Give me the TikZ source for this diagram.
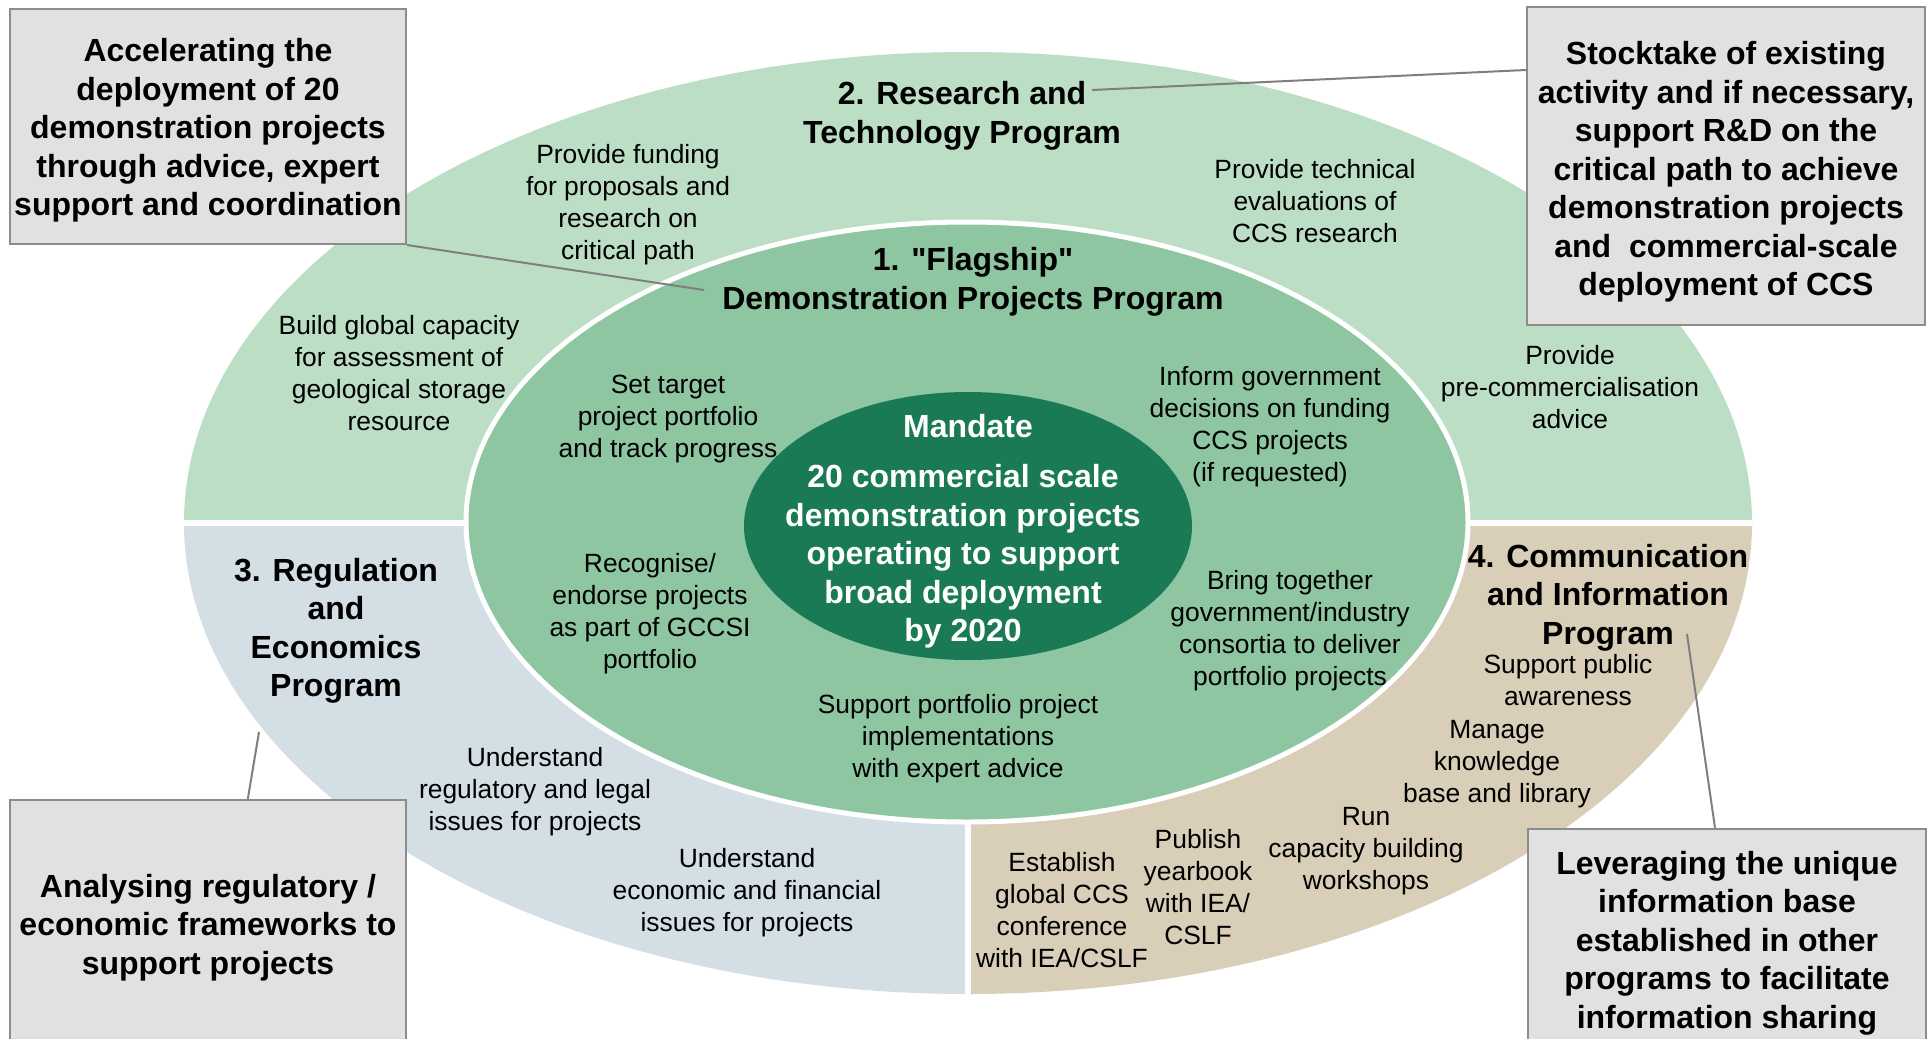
\documentclass[tikz,border=0pt]{standalone}
\usepackage{fontspec}
\setmainfont{Liberation Sans}
\newfontfamily\plainquote{Liberation Sans}
\usetikzlibrary{calc}
\definecolor{lgreen}{HTML}{BCDEC5}
\definecolor{mgreen}{HTML}{8DC6A1}
\definecolor{dgreen}{HTML}{1A7A56}
\definecolor{lblue}{HTML}{D3DFE5}
\definecolor{lbeige}{HTML}{D9CEB8}
\definecolor{boxfill}{HTML}{E1E1E1}
\definecolor{boxline}{HTML}{8C8C8C}
\definecolor{conn}{HTML}{7F7F7F}
\begin{document}
\begin{tikzpicture}[x=1pt,y=-1pt,
  lbl/.style={align=center, font=\fontsize{26.4}{32}\selectfont, inner sep=0pt},
  ttl/.style={align=center, font=\fontsize{32}{38.5}\selectfont\bfseries, inner sep=0pt},
  callout/.style={draw=boxline, fill=boxfill, line width=2pt, align=center,
    font=\fontsize{32}{38.5}\selectfont\bfseries, inner sep=0pt},
  connector/.style={draw=conn, line width=2pt}]
\useasboundingbox (0,0) rectangle (1931,1039);
\clip (0,0) rectangle (1931,1039);
\fill[white] (0,0) rectangle (1931,1039);

% outer ellipse with three sections
\begin{scope}
  \clip (968,523) ellipse [x radius=784pt, y radius=471pt];
  \fill[lgreen] (150,0) rectangle (1800,523);
  \fill[lblue] (150,523) rectangle (968,1000);
  \fill[lbeige] (968,523) rectangle (1800,1000);
  \draw[white, line width=6pt] (150,523) -- (1800,523);
  \draw[white, line width=6pt] (968,523) -- (968,1000);
\end{scope}

% inner ellipse
\filldraw[fill=mgreen, draw=white, line width=5pt] (967,522) ellipse [x radius=501pt, y radius=300pt];
% centre ellipse
\fill[dgreen] (968,526) ellipse [x radius=224pt, y radius=134pt];

% callout boxes
\node[callout, minimum width=396pt, minimum height=235pt] (boxTL) at (208,126.5)
  {\rule{0pt}{31pt}Accelerating the\\deployment of 20\\demonstration projects\\through advice, expert\\support and coordination};
\node[callout, minimum width=398pt, minimum height=318pt] (boxTR) at (1726,166)
  {\rule{0pt}{35.3pt}Stocktake of existing\\activity and if necessary,\\support R\&D on the\\critical path to achieve\\demonstration projects\\and\ \ commercial-scale\\deployment of CCS};
\node[callout, minimum width=396pt, minimum height=250pt] (boxBL) at (208,925)
  {\rule{0pt}{28.3pt}Analysing regulatory /\\economic frameworks to\\support projects};
\node[callout, minimum width=398pt, minimum height=220pt] (boxBR) at (1727,939)
  {\rule{0pt}{31pt}Leveraging the unique\\information base\\established in other\\programs to facilitate\\information sharing};

% connector ends
\coordinate (tlEnd) at (704,290);
\coordinate (trEnd) at (1092,90);
\coordinate (blEnd) at (259,732);
\coordinate (brEnd) at (1687,634);
\draw[connector] (boxTL.south east) -- (tlEnd);
\draw[connector] ($(boxTR.north west)!0.2!(boxTR.south west)$) -- (trEnd);
\draw[connector] ($(boxBL.north west)!0.6!(boxBL.north east)$) -- (blEnd);
\draw[connector] ($(boxBR.north west)!0.47!(boxBR.north east)$) -- (brEnd);

% Research and Technology
\node[ttl] (t2) at (962,116) {2. Research and\\Technology Program};
\node[lbl] (p1) at (628,205) {Provide funding\\for proposals and\\research on\\critical path};
\node[lbl] (p2) at (1315,201) {Provide technical\\evaluations of\\CCS research};
\node[lbl] (p3) at (399,373) {Build global capacity\\for assessment of\\geological storage\\resource};
\node[lbl] (p4) at (1570,387) {Provide\\pre-commercialisation\\advice};

% Flagship
\node[ttl] (t1) at (973,282) {{\plainquote 1. "Flagship"}\\Demonstration Projects Program};
\node[lbl] (f1) at (668,419) {Set target\\project portfolio\\and track progress};
\node[lbl] (f2) at (1270,426.5) {Inform government\\decisions on funding\\CCS projects\\(if requested)};
\node[lbl] (f3) at (650,614) {Recognise/\\endorse projects\\as part of GCCSI\\portfolio};
\node[lbl] (f4) at (1290,630.5) {Bring together\\government/industry\\consortia to deliver\\portfolio projects};
\node[lbl] (f5) at (958,739) {Support portfolio project\\implementations\\with expert advice};

% Mandate
\node[ttl, text=white] (m0) at (968,426) {Mandate};
\node[ttl, text=white] (m1) at (963,556.5) {20 commercial scale\\demonstration projects\\operating to support\\broad deployment\\by 2020};

% Regulation and Economics
\node[ttl] (t3) at (336,631) {3. Regulation\\and\\Economics\\Program};
\node[lbl] (r1) at (535,792) {Understand\\regulatory and legal\\issues for projects};
\node[lbl] (r2) at (747,893) {Understand\\economic and financial\\issues for projects};

% Communication and Information
\node[ttl] (t4) at (1608,597.5) {4. Communication\\and Information\\Program};
\node[lbl] (c1) at (1568,680) {Support public\\awareness};
\node[lbl] (c2) at (1497,764.5) {Manage\\knowledge\\base and library};
\node[lbl] (c3) at (1366,851) {Run\\capacity building\\workshops};
\node[lbl] (c4) at (1198,887) {Publish\\yearbook\\with IEA/\\CSLF};
\node[lbl] (c5) at (1062,910) {Establish\\global CCS\\conference\\with IEA/CSLF};
\end{tikzpicture}
\end{document}
